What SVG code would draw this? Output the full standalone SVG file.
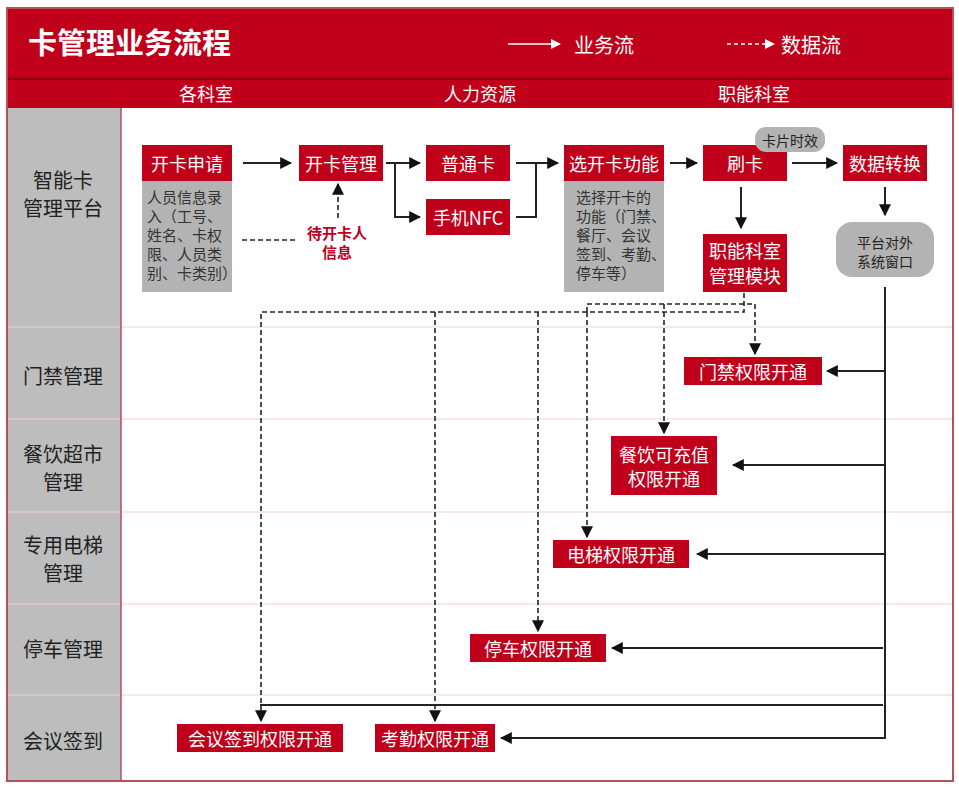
<svg xmlns="http://www.w3.org/2000/svg" width="959" height="788" viewBox="0 0 959 788">
<defs>
<style>
text{font-family:"Noto Sans CJK SC","Liberation Sans",sans-serif;}
.w{fill:#fff;font-size:18px;text-anchor:middle;dominant-baseline:central;}
.lbl{fill:#222;font-size:20px;text-anchor:middle;dominant-baseline:central;}
.g{fill:#333;font-size:15px;}
.gc{fill:#222;font-size:14px;text-anchor:middle;dominant-baseline:central;}
.red{fill:#C0001A;}
.gray{fill:#B3B3B3;}
.sep{stroke:#F2CDD1;stroke-width:1.2;}
.s{stroke:#222;stroke-width:2;fill:none;}
.d{stroke:#222;stroke-width:1.6;fill:none;stroke-dasharray:5,3;}
</style>
<marker id="ahs" viewBox="0 0 10 10" refX="9" refY="5" markerWidth="12" markerHeight="12" markerUnits="userSpaceOnUse" orient="auto"><path d="M0,0L10,5L0,10z" fill="#111"/></marker>
<marker id="ahw" viewBox="0 0 10 10" refX="9" refY="5" markerWidth="10" markerHeight="10" markerUnits="userSpaceOnUse" orient="auto"><path d="M0,0L10,5L0,10z" fill="#fff"/></marker>
</defs>
<rect width="959" height="788" fill="#fff"/>
<g id="frame">
<rect x="7" y="8" width="946" height="100" fill="#C0001A"/>
<line x1="7" y1="79" x2="953" y2="79" stroke="#7A0010" stroke-width="1.5"/>
<rect x="7" y="108" width="114" height="673" fill="#BDBDBD"/>
<line x1="7" y1="327" x2="953" y2="327" class="sep"/>
<line x1="7" y1="419" x2="953" y2="419" class="sep"/>
<line x1="7" y1="512" x2="953" y2="512" class="sep"/>
<line x1="7" y1="604" x2="953" y2="604" class="sep"/>
<line x1="7" y1="695" x2="953" y2="695" class="sep"/>
<line x1="121" y1="108" x2="121" y2="781" stroke="#B5505C" stroke-width="1.5"/>
<rect x="7" y="8" width="946" height="773" fill="none" stroke="#B5505C" stroke-width="2"/>
<text x="28" y="41" fill="#fff" font-size="29" font-weight="bold" dominant-baseline="central">卡管理业务流程</text>
<line x1="508" y1="44" x2="560" y2="44" stroke="#fff" stroke-width="1.6" marker-end="url(#ahw)"/>
<text x="574" y="44" fill="#fff" font-size="20" dominant-baseline="central">业务流</text>
<line x1="727" y1="44" x2="774" y2="44" stroke="#fff" stroke-width="1.6" stroke-dasharray="4,3" marker-end="url(#ahw)"/>
<text x="781" y="44" fill="#fff" font-size="20" dominant-baseline="central">数据流</text>
<text x="206" y="93" class="w" font-size="20">各科室</text>
<text x="480" y="93" class="w" font-size="20">人力资源</text>
<text x="754" y="93" class="w" font-size="20">职能科室</text>
<text x="63" y="179" class="lbl">智能卡</text>
<text x="63" y="207" class="lbl">管理平台</text>
<text x="63" y="375" class="lbl">门禁管理</text>
<text x="63" y="453" class="lbl">餐饮超市</text>
<text x="63" y="481" class="lbl">管理</text>
<text x="63" y="544" class="lbl">专用电梯</text>
<text x="63" y="572" class="lbl">管理</text>
<text x="63" y="648" class="lbl">停车管理</text>
<text x="63" y="740" class="lbl">会议签到</text>
</g>
<g id="connectors">
<line x1="243" y1="163" x2="291" y2="163" class="s" marker-end="url(#ahs)"/>
<polyline points="386,163 420,163" class="s" marker-end="url(#ahs)"/>
<polyline points="395,163 395,217 420,217" class="s" marker-end="url(#ahs)"/>
<polyline points="516,163 536,163" class="s"/>
<polyline points="516,217 536,217 536,163 558,163" class="s" marker-end="url(#ahs)"/>
<line x1="670" y1="163" x2="697" y2="163" class="s" marker-end="url(#ahs)"/>
<line x1="792" y1="163" x2="837" y2="163" class="s" marker-end="url(#ahs)"/>
<line x1="741" y1="187" x2="741" y2="228" class="s" marker-end="url(#ahs)"/>
<line x1="885" y1="187" x2="885" y2="215" class="s" marker-end="url(#ahs)"/>
<line x1="338" y1="218" x2="338" y2="184" class="d" marker-end="url(#ahs)"/>
<line x1="242" y1="240" x2="296" y2="240" class="d" stroke-dasharray="3,4"/>
<polyline points="885,287 885,738 501,738" class="s" marker-end="url(#ahs)"/>
<line x1="885" y1="371" x2="827" y2="371" class="s" marker-end="url(#ahs)"/>
<line x1="885" y1="465" x2="733" y2="465" class="s" marker-end="url(#ahs)"/>
<line x1="885" y1="554" x2="697" y2="554" class="s" marker-end="url(#ahs)"/>
<line x1="883" y1="648" x2="612" y2="648" class="s" marker-end="url(#ahs)"/>
<line x1="883" y1="705" x2="260" y2="705" class="s" stroke-width="2.2"/>
<polyline points="744,293 744,312 261,312 261,721" class="d" marker-end="url(#ahs)"/>
<line x1="435" y1="312" x2="435" y2="721" class="d" marker-end="url(#ahs)"/>
<line x1="538" y1="312" x2="538" y2="631" class="d" marker-end="url(#ahs)"/>
<polyline points="587,312 587,304 755,304 755,354" class="d" marker-end="url(#ahs)"/>
<line x1="587" y1="312" x2="587" y2="537" class="d" marker-end="url(#ahs)"/>
<line x1="664" y1="304" x2="664" y2="433" class="d" marker-end="url(#ahs)"/>
</g>
<g id="n-kksq"><rect x="142" y="145" width="90" height="36" class="red"/><text x="187" y="163" class="w">开卡申请</text></g>
<g id="n-kksq-note"><rect x="142" y="181" width="90" height="111" class="gray"/>
<text class="g"><tspan x="147" y="203">人员信息录</tspan><tspan x="147" y="222">入（工号、</tspan><tspan x="147" y="241">姓名、卡权</tspan><tspan x="147" y="260">限、人员类</tspan><tspan x="147" y="279">别、卡类别）</tspan></text></g>
<g id="n-kkgl"><rect x="299" y="145" width="84" height="36" class="red"/><text x="341" y="163" class="w">开卡管理</text></g>
<g id="n-dkk"><text x="337" y="232" fill="#C0001A" font-size="15" font-weight="bold" text-anchor="middle" dominant-baseline="central">待开卡人</text><text x="337" y="251" fill="#C0001A" font-size="15" font-weight="bold" text-anchor="middle" dominant-baseline="central">信息</text></g>
<g id="n-ptk"><rect x="426" y="145" width="84" height="36" class="red"/><text x="468" y="163" class="w">普通卡</text></g>
<g id="n-nfc"><rect x="426" y="199" width="84" height="36" class="red"/><text x="468" y="217" class="w">手机NFC</text></g>
<g id="n-xkk"><rect x="564" y="145" width="100" height="36" class="red"/><text x="614" y="163" class="w">选开卡功能</text></g>
<g id="n-xkk-note"><rect x="564" y="181" width="100" height="111" class="gray"/>
<text class="g"><tspan x="576" y="203">选择开卡的</tspan><tspan x="576" y="222">功能（门禁、</tspan><tspan x="576" y="241">餐厅、会议</tspan><tspan x="576" y="260">签到、考勤、</tspan><tspan x="576" y="279">停车等）</tspan></text></g>
<g id="n-sk"><rect x="703" y="145" width="84" height="36" class="red"/><text x="745" y="163" class="w">刷卡</text></g>
<g id="n-kpsx"><rect x="755" y="127" width="70" height="25" rx="11" class="gray"/><text x="790" y="139.5" class="gc">卡片时效</text></g>
<g id="n-sjzh"><rect x="843" y="145" width="84" height="36" class="red"/><text x="885" y="163" class="w">数据转换</text></g>
<g id="n-znks"><rect x="703" y="234" width="84" height="58" class="red"/><text x="745" y="250" class="w">职能科室</text><text x="745" y="275" class="w">管理模块</text></g>
<g id="n-ptdw"><rect x="836" y="222" width="98" height="55" rx="16" class="gray"/><text x="885" y="242" class="gc">平台对外</text><text x="885" y="261" class="gc">系统窗口</text></g>
<g id="n-mj"><rect x="684" y="357" width="138" height="28" class="red"/><text x="753" y="371" class="w">门禁权限开通</text></g>
<g id="n-cy"><rect x="611" y="436" width="106" height="59" class="red"/><text x="664" y="454" class="w">餐饮可充值</text><text x="664" y="478" class="w">权限开通</text></g>
<g id="n-dt"><rect x="553" y="540" width="136" height="28" class="red"/><text x="621" y="554" class="w">电梯权限开通</text></g>
<g id="n-tc"><rect x="470" y="634" width="136" height="28" class="red"/><text x="538" y="648" class="w">停车权限开通</text></g>
<g id="n-hy"><rect x="177" y="724" width="166" height="28" class="red"/><text x="260" y="738" class="w">会议签到权限开通</text></g>
<g id="n-kq"><rect x="375" y="724" width="120" height="28" class="red"/><text x="435" y="738" class="w">考勤权限开通</text></g>
</svg>
